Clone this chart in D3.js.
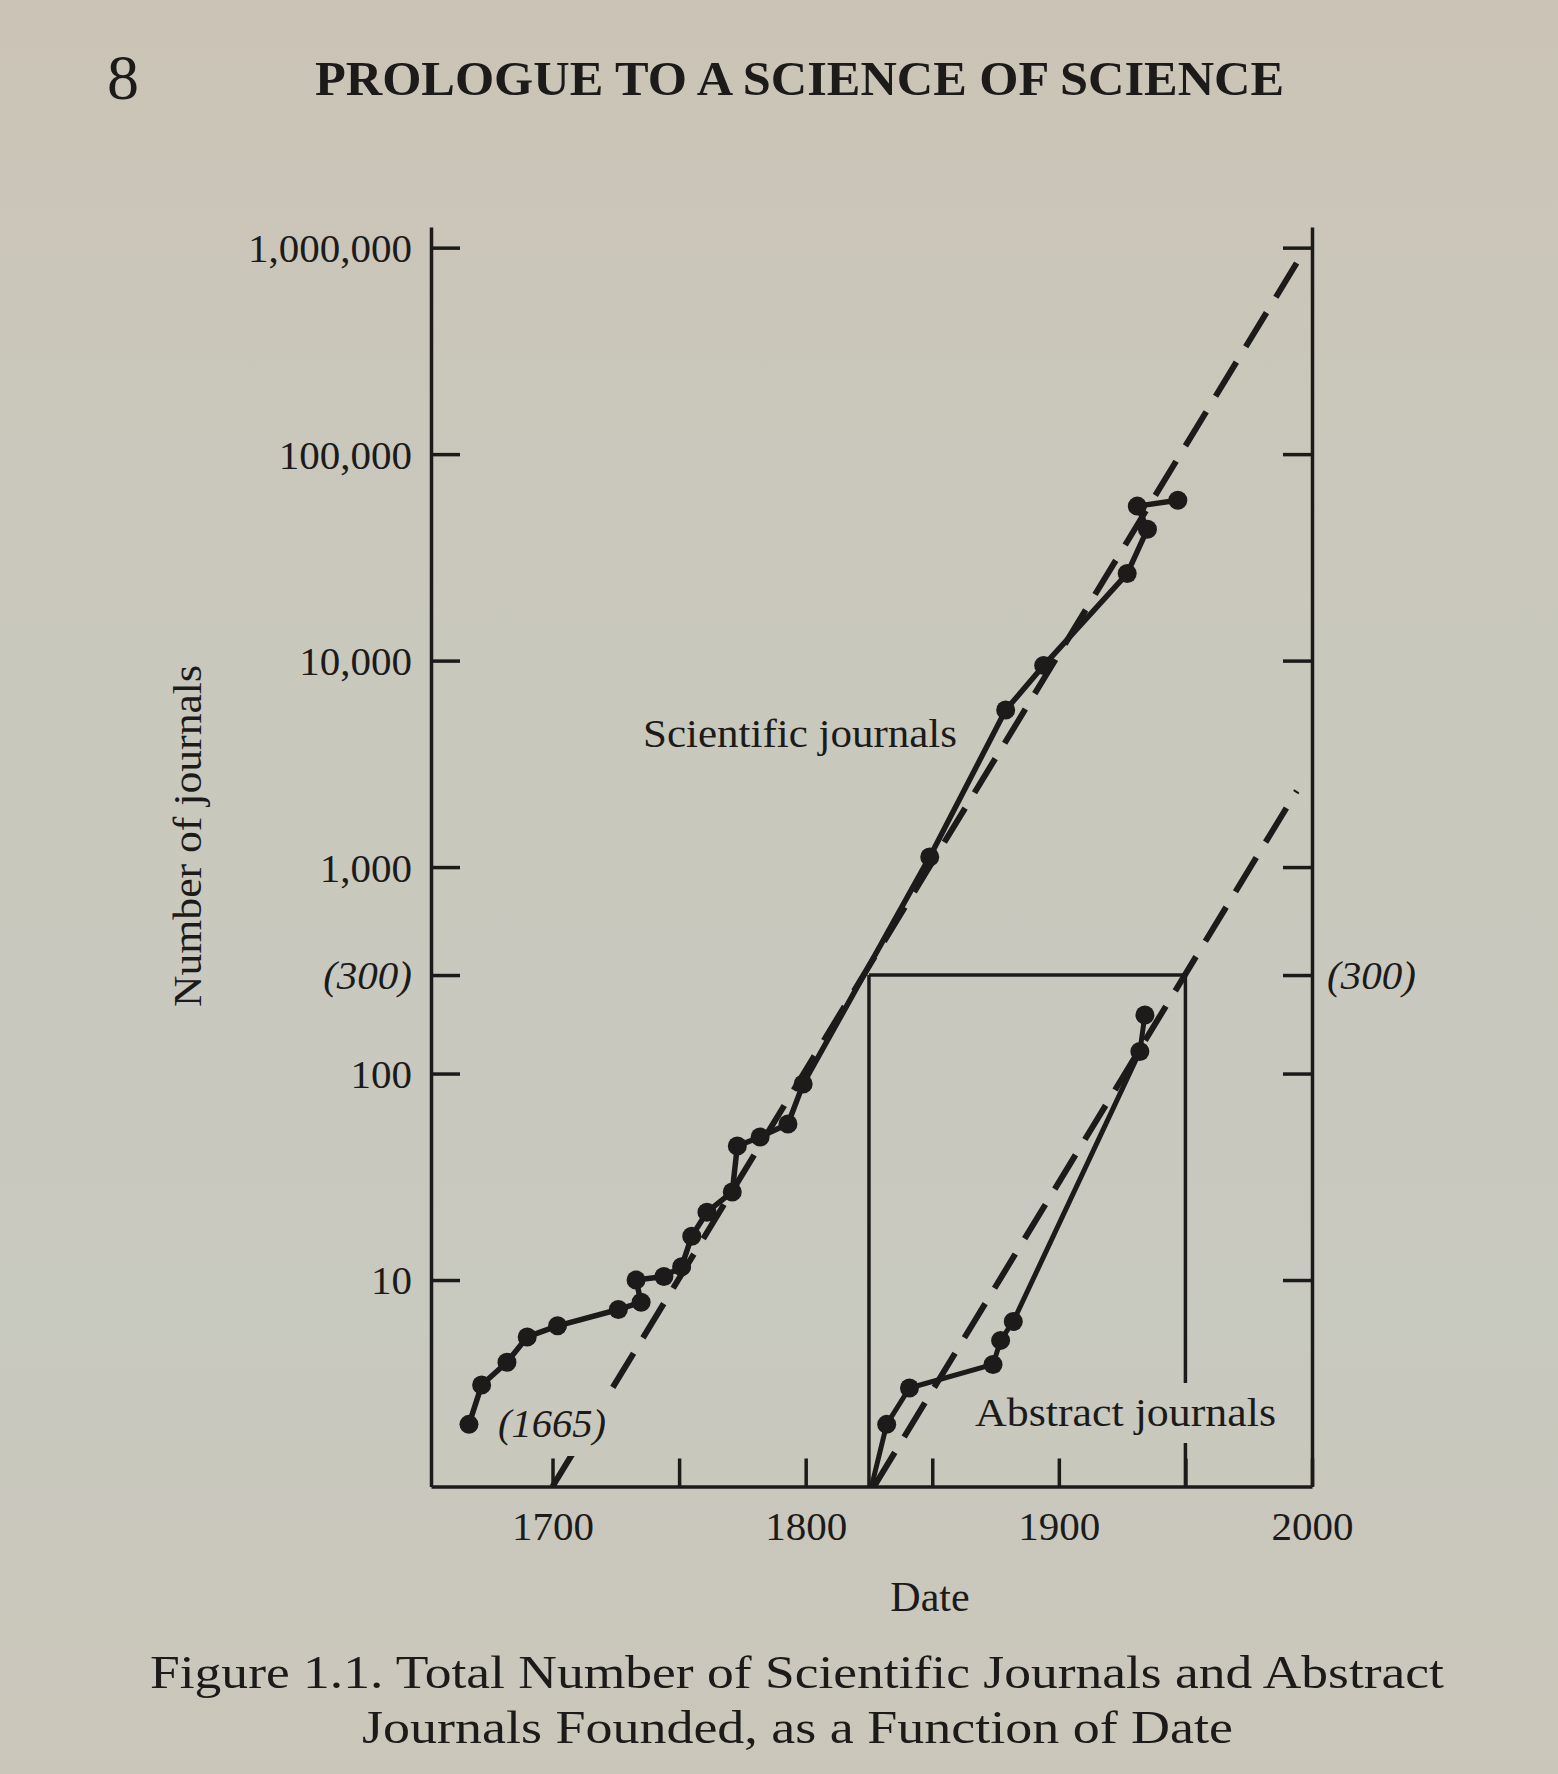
<!DOCTYPE html>
<html>
<head>
<meta charset="utf-8">
<script src="https://cdn.jsdelivr.net/npm/d3@7"></script>
<style>
  html, body { margin: 0; padding: 0; background: #cac6ba; }
  svg { display: block; }
  text { font-family: "Liberation Serif", "DejaVu Serif", serif; fill: #1c1b1a; }
</style>
</head>
<body>
<svg id="chart" width="1558" height="1774"></svg>
<script>
// ---------------- data ----------------
const sciYears  = [1667, 1672, 1682, 1690, 1702, 1726, 1735, 1733, 1744, 1751, 1755, 1761, 1771, 1773, 1782, 1793, 1799, 1849, 1879, 1894, 1927, 1935, 1931, 1947];
const sciValues = [2, 3.1, 4, 5.3, 6, 7.2, 7.8, 10, 10.4, 11.6, 16.3, 21.3, 26.7, 44.6, 49.3, 57, 89, 1120, 5760, 9460, 26400, 43300, 56000, 59800];

const absYears  = [1826, 1832, 1841, 1874, 1877, 1882, 1932, 1934];
const absValues = [1, 2, 3, 3.9, 5.1, 6.3, 128, 192];

const sciTrendYears  = [1700, 1996];
const sciTrendValues = [1, 927000];
const absTrendYears  = [1827, 1994];
const absTrendValues = [1, 2340];

const boxYears = [1825, 1950];
const boxValue = 300;

const yTickValues = [10, 100, 300, 1000, 10000, 100000, 1000000];
const yTickLabels = ["10", "100", "(300)", "1,000", "10,000", "100,000", "1,000,000"];
const xTickValues = [1700, 1750, 1800, 1850, 1900, 1950, 2000];
const xTickLabels = ["1700", "", "1800", "", "1900", "", "2000"];

const headerPage = "8";
const headerTitle = "PROLOGUE TO A SCIENCE OF SCIENCE";
const captionLines = ["Figure 1.1. Total Number of Scientific Journals and Abstract",
                      "Journals Founded, as a Function of Date"];

// ---------------- layout ----------------
const ink = "#1c1b1a";
const svg = d3.select("#chart");

// background
const defs = svg.append("defs");
const grad = defs.append("linearGradient").attr("id", "paper")
  .attr("gradientUnits", "userSpaceOnUse")
  .attr("x1", 0).attr("y1", 0).attr("x2", 0).attr("y2", 1774);
grad.append("stop").attr("offset", "0%").attr("stop-color", "#cbc4b6");
grad.append("stop").attr("offset", "35%").attr("stop-color", "#c9c8bd");
grad.append("stop").attr("offset", "75%").attr("stop-color", "#c8c9bf");
grad.append("stop").attr("offset", "100%").attr("stop-color", "#cbc6ba");
svg.append("rect").attr("width", 1558).attr("height", 1774).attr("fill", "url(#paper)");

const x = d3.scaleLinear().domain([1652, 2000]).range([431, 1312]);
const y = d3.scaleLog().domain([1, Math.pow(10, 6.1)]).range([1486.5, 227]);

const g = svg.append("g");

// left axis
const leftAxis = d3.axisLeft(y)
  .tickValues(yTickValues)
  .tickFormat((d, i) => yTickLabels[i])
  .tickSizeInner(-29).tickSizeOuter(0).tickPadding(19);
const gl = g.append("g").attr("transform", `translate(${x(1652)},0)`).call(leftAxis);

// right axis
const rightAxis = d3.axisRight(y)
  .tickValues(yTickValues)
  .tickFormat(d => d === boxValue ? "(300)" : "")
  .tickSizeInner(-29).tickSizeOuter(0).tickPadding(15);
const gr = g.append("g").attr("transform", `translate(${x(2000)},0)`).call(rightAxis);

// bottom axis
const bottomAxis = d3.axisBottom(x)
  .tickValues(xTickValues)
  .tickFormat((d, i) => xTickLabels[i])
  .tickSizeInner(-28).tickSizeOuter(0).tickPadding(24);
const gb = g.append("g").attr("transform", `translate(0,${y(1)})`).call(bottomAxis);

[gl, gr, gb].forEach(a => {
  a.select(".domain").attr("stroke", ink).attr("stroke-width", 3.5);
  a.selectAll(".tick line").attr("stroke", ink).attr("stroke-width", 3.5);
  a.selectAll(".tick text")
    .attr("font-family", '"Liberation Serif", "DejaVu Serif", serif')
    .attr("font-size", 41).attr("fill", ink);
});
gl.selectAll(".tick text").attr("dy", "0.34em")
  .attr("font-style", d => d === boxValue ? "italic" : "normal");
gr.selectAll(".tick text").attr("dy", "0.34em").attr("font-style", "italic");

// box (1825–1950 at 300)
const boxG = g.append("g").attr("stroke", ink).attr("stroke-width", 3.5).attr("fill", "none");
boxG.append("line").attr("x1", x(boxYears[0])).attr("x2", x(boxYears[0])).attr("y1", y(1)).attr("y2", y(boxValue));
boxG.append("line").attr("x1", x(boxYears[0])).attr("x2", x(boxYears[1])).attr("y1", y(boxValue)).attr("y2", y(boxValue));
boxG.append("line").attr("x1", x(boxYears[1])).attr("x2", x(boxYears[1])).attr("y1", y(boxValue)).attr("y2", 1383);
boxG.append("line").attr("x1", x(boxYears[1])).attr("x2", x(boxYears[1])).attr("y1", 1443).attr("y2", y(1));

// trend (dashed) lines
const line = d3.line().x(d => x(d[0])).y(d => y(d[1]));
const sciTrend = sciTrendYears.map((yr, i) => [yr, sciTrendValues[i]]);
const absTrend = absTrendYears.map((yr, i) => [yr, absTrendValues[i]]);
[sciTrend, absTrend].forEach(t => {
  g.append("path").attr("d", line(t)).attr("fill", "none").attr("stroke", ink)
    .attr("stroke-width", 6).attr("stroke-dasharray", "40,18");
});

// data series
const sci = sciYears.map((yr, i) => [yr, sciValues[i]]);
const abs = absYears.map((yr, i) => [yr, absValues[i]]);
g.append("path").attr("d", line(sci)).attr("fill", "none").attr("stroke", ink)
  .attr("stroke-width", 5.5).attr("stroke-linejoin", "round");
g.append("path").attr("d", line(abs)).attr("fill", "none").attr("stroke", ink)
  .attr("stroke-width", 5).attr("stroke-linejoin", "round");

g.selectAll("circle.sci").data(sci).join("circle").attr("class", "sci")
  .attr("cx", d => x(d[0])).attr("cy", d => y(d[1])).attr("r", 9.5).attr("fill", ink);
g.selectAll("circle.abs").data(abs.filter(d => d[1] > 1)).join("circle").attr("class", "abs")
  .attr("cx", d => x(d[0])).attr("cy", d => y(d[1])).attr("r", 9.5).attr("fill", ink);

// annotations
g.append("text").attr("x", 643).attr("y", 747).attr("font-size", 40)
  .attr("textLength", 314).attr("lengthAdjust", "spacingAndGlyphs").text("Scientific journals");
g.append("text").attr("x", 975).attr("y", 1426).attr("font-size", 40)
  .attr("textLength", 301).attr("lengthAdjust", "spacingAndGlyphs").text("Abstract journals");
// label (1665) sits in a break of the dashed trend line
g.append("rect").attr("x", 496).attr("y", 1400).attr("width", 118).attr("height", 56).attr("fill", "url(#paper)");
g.append("text").attr("x", 498).attr("y", 1437).attr("font-size", 40).attr("font-style", "italic")
  .attr("textLength", 108).attr("lengthAdjust", "spacingAndGlyphs").text("(1665)");

// axis titles
g.append("text").attr("x", 930).attr("y", 1611).attr("font-size", 42).attr("text-anchor", "middle").text("Date");
g.append("text").attr("transform", "translate(201,836) rotate(-90)").attr("font-size", 40)
  .attr("text-anchor", "middle").attr("textLength", 342).attr("lengthAdjust", "spacingAndGlyphs")
  .text("Number of journals");

// page header
svg.append("text").attr("x", 107).attr("y", 99).attr("font-size", 64).text(headerPage);
svg.append("text").attr("x", 315).attr("y", 95).attr("font-size", 48).attr("font-weight", "bold")
  .attr("textLength", 969).attr("lengthAdjust", "spacingAndGlyphs").text(headerTitle);

// caption
svg.append("text").attr("x", 150).attr("y", 1688).attr("font-size", 47)
  .attr("textLength", 1294).attr("lengthAdjust", "spacingAndGlyphs").text(captionLines[0]);
svg.append("text").attr("x", 362).attr("y", 1743).attr("font-size", 47)
  .attr("textLength", 871).attr("lengthAdjust", "spacingAndGlyphs").text(captionLines[1]);
</script>
</body>
</html>
